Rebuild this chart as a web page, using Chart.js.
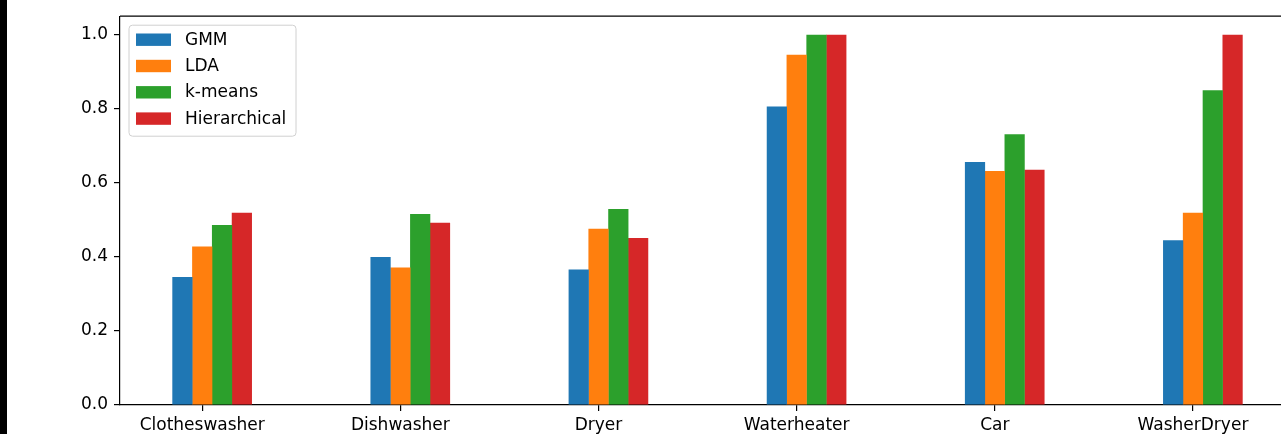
<!DOCTYPE html>
<html>
<head>
<meta charset="utf-8">
<script src="https://cdn.jsdelivr.net/npm/chart.js@4.4.1/dist/chart.umd.min.js"></script>
<style>
  html, body { margin: 0; padding: 0; background: #fff; }
  #wrap { position: relative; width: 1281px; height: 434px; overflow: hidden; background: #fff; }
  #edge { position: absolute; left: 0; top: 0; width: 7px; height: 434px; background: #000; z-index: 2; }
  canvas { position: absolute; left: 0; top: 0; }
</style>
</head>
<body>
<div id="wrap">
  <div id="edge"></div>
  <canvas id="chart" width="1300" height="434"></canvas>
</div>
<script>
// Appliance categories along the x axis
const categories = ['Clotheswasher', 'Dishwasher', 'Dryer', 'Waterheater', 'Car', 'WasherDryer'];

// Score per method and appliance
const gmm          = [0.346, 0.400, 0.366, 0.806, 0.656, 0.445];
const lda          = [0.428, 0.371, 0.476, 0.946, 0.632, 0.519];
const kmeans       = [0.486, 0.516, 0.529, 1.000, 0.731, 0.850];
const hierarchical = [0.519, 0.492, 0.451, 1.000, 0.635, 1.000];

const seriesNames  = ['GMM', 'LDA', 'k-means', 'Hierarchical'];
const seriesValues = [gmm, lda, kmeans, hierarchical];
const seriesColors = ['#1f77b4', '#ff7f0e', '#2ca02c', '#d62728'];

const yTicks = [0.0, 0.2, 0.4, 0.6, 0.8, 1.0];

// each group of bars sits half a bar to the right of its tick
const groupShift = 0.05;

const FONT = 'DejaVu Sans';

const datasets = seriesNames.map((name, k) => ({
  label: name,
  data: seriesValues[k].map((v, i) => ({ x: i + groupShift, y: v })),
  backgroundColor: seriesColors[k],
  borderWidth: 0,
  categoryPercentage: 0.4,
  barPercentage: 1.02   // slight overlap so neighbouring bars leave no hairline gap
}));

// top spine and the legend box in the upper left corner
const frameAndLegend = {
  id: 'frameAndLegend',
  afterDraw(chart) {
    const ctx = chart.ctx;
    const a = chart.chartArea;
    ctx.save();
    ctx.strokeStyle = '#000';
    ctx.lineWidth = 1.2;
    ctx.beginPath();
    ctx.moveTo(a.left, a.top);
    ctx.lineTo(a.right, a.top);
    ctx.stroke();

    const bx = a.left + 9, by = a.top + 9, bw = 167, bh = 111, r = 3.5;
    ctx.beginPath();
    ctx.moveTo(bx + r, by);
    ctx.lineTo(bx + bw - r, by);
    ctx.quadraticCurveTo(bx + bw, by, bx + bw, by + r);
    ctx.lineTo(bx + bw, by + bh - r);
    ctx.quadraticCurveTo(bx + bw, by + bh, bx + bw - r, by + bh);
    ctx.lineTo(bx + r, by + bh);
    ctx.quadraticCurveTo(bx, by + bh, bx, by + bh - r);
    ctx.lineTo(bx, by + r);
    ctx.quadraticCurveTo(bx, by, bx + r, by);
    ctx.closePath();
    ctx.fillStyle = 'rgba(255,255,255,0.8)';
    ctx.fill();
    ctx.strokeStyle = '#d0d0d0';
    ctx.lineWidth = 1;
    ctx.stroke();

    ctx.font = '17px "' + FONT + '"';
    ctx.textBaseline = 'middle';
    ctx.textAlign = 'left';
    chart.data.datasets.forEach((ds, i) => {
      const cy = by + 14.5 + i * 26.3;
      ctx.fillStyle = ds.backgroundColor;
      ctx.fillRect(bx + 7, cy - 6.2, 35, 12.4);
      ctx.fillStyle = '#000';
      ctx.fillText(ds.label, bx + 56, cy + 0.5);
    });
    ctx.restore();
  }
};

new Chart(document.getElementById('chart'), {
  type: 'bar',
  data: { datasets },
  options: {
    responsive: false,
    animation: false,
    devicePixelRatio: 1,
    layout: { padding: { top: 15, right: 4, bottom: 0, left: 0 } },
    plugins: { legend: { display: false }, tooltip: { enabled: false } },
    scales: {
      x: {
        type: 'linear',
        offset: false,
        min: -0.415,
        max: 5.52,
        afterBuildTicks(scale) { scale.ticks = categories.map((_, i) => ({ value: i })); },
        afterFit(scale) { scale.height = 29; },
        ticks: {
          autoSkip: false,
          maxRotation: 0,
          padding: 4,
          color: '#000',
          font: { family: FONT, size: 17 },
          callback: (v) => categories[v]
        },
        grid: { offset: false, drawOnChartArea: false, drawTicks: true, tickLength: 6, color: '#000', lineWidth: 1.2 },
        border: { display: true, color: '#000', width: 1.2 }
      },
      y: {
        min: 0,
        max: 1.05,
        afterBuildTicks(scale) { scale.ticks = yTicks.map(v => ({ value: v })); },
        afterFit(scale) { scale.width = 120; },
        ticks: {
          padding: 6,
          color: '#000',
          font: { family: FONT, size: 17 },
          callback: (v) => Number(v).toFixed(1)
        },
        grid: { drawOnChartArea: false, drawTicks: true, tickLength: 6, color: '#000', lineWidth: 1.2 },
        border: { display: true, color: '#000', width: 1.2 }
      }
    }
  },
  plugins: [frameAndLegend]
});
</script>
</body>
</html>
